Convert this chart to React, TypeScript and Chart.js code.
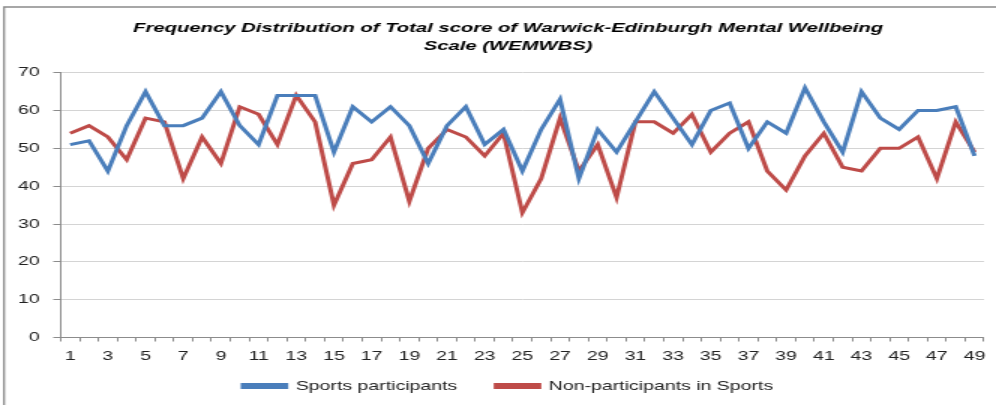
import React, { useEffect, useRef } from "react";
import { Chart, registerables } from "chart.js";

Chart.register(...registerables);

const categories: string[] = Array.from({ length: 49 }, (_, i) => String(i + 1));

const sportsParticipants: number[] = [
  51, 52, 44, 56, 65, 56, 56, 58, 65, 56, 51, 64, 64, 64, 49, 61, 57, 61, 56, 46,
  56, 61, 51, 55, 44, 55, 63, 42, 55, 49, 57, 65, 58, 51, 60, 62, 50, 57, 54, 66,
  57, 49, 65, 58, 55, 60, 60, 61, 48,
];

const nonParticipants: number[] = [
  54, 56, 53, 47, 58, 57, 42, 53, 46, 61, 59, 51, 64, 57, 35, 46, 47, 53, 36, 50,
  55, 53, 48, 54, 33, 42, 58, 44, 51, 37, 57, 57, 54, 59, 49, 54, 57, 44, 39, 48,
  54, 45, 44, 50, 50, 53, 42, 57, 49,
];

const seriesNames: string[] = ["Sports participants", "Non-participants in Sports"];
const seriesColors: string[] = ["#4A7EBB", "#BE4B48"];
const titleLines: string[] = [
  "Frequency Distribution of Total score of Warwick-Edinburgh Mental Wellbeing",
  "Scale (WEMWBS)",
];
const yMin = 0;
const yMax = 70;
const yStep = 10;

const STRETCH = 1.5;
const W = 664;
const H = 405;

const framePlugin = {
  id: "frame",
  beforeDraw(chart: any) {
    const ctx = chart.ctx;
    ctx.save();
    ctx.fillStyle = "#ffffff";
    ctx.fillRect(0, 0, chart.width, chart.height);
    ctx.strokeStyle = "#8a8a8a";
    ctx.lineWidth = 1.3;
    ctx.beginPath();
    ctx.moveTo(2.7, chart.height + 2);
    ctx.lineTo(2.7, 7);
    ctx.lineTo(chart.width + 2, 7);
    ctx.stroke();
    ctx.restore();
  },
};

export default function App() {
  const ref = useRef<HTMLCanvasElement | null>(null);

  useEffect(() => {
    if (!ref.current) return;
    const font = "'Liberation Sans', Arial, sans-serif";
    const chart = new Chart(ref.current, {
      type: "line",
      data: {
        labels: categories,
        datasets: [
          {
            label: seriesNames[0],
            data: sportsParticipants,
            borderColor: seriesColors[0],
            backgroundColor: seriesColors[0],
            borderWidth: 3,
            pointRadius: 0,
            tension: 0,
          },
          {
            label: seriesNames[1],
            data: nonParticipants,
            borderColor: seriesColors[1],
            backgroundColor: seriesColors[1],
            borderWidth: 3,
            pointRadius: 0,
            tension: 0,
          },
        ],
      },
      options: {
        animation: false,
        responsive: false,
        devicePixelRatio: 1,
        layout: { padding: { left: 8, right: -5.4, top: 0, bottom: 2.5 } },
        plugins: {
          title: {
            display: true,
            text: titleLines,
            color: "#000000",
            font: { family: font, size: 13.5, weight: "bold", style: "italic", lineHeight: 1.333 },
            padding: { top: 19, bottom: 17.7 },
          },
          legend: {
            display: true,
            position: "bottom",
            labels: {
              boxWidth: 28.7,
              boxHeight: 3,
              padding: 15,
              color: "#222222",
              font: { family: font, size: 13 },
              generateLabels: (c: any) => {
                const items = Chart.defaults.plugins.legend.labels.generateLabels(c);
                return items.map((it: any, i: number) =>
                  i === 0 ? { ...it, text: it.text + "   " } : it
                );
              },
            },
          },
          tooltip: { enabled: false },
        },
        scales: {
          x: {
            offset: true,
            afterFit(scale: any) {
              scale.height = 27;
            },
            grid: {
              offset: true,
              drawOnChartArea: false,
              drawTicks: true,
              tickLength: 4,
              tickColor: "#8c8c8c",
            },
            border: { display: true, color: "#8c8c8c", width: 1 },
            ticks: {
              autoSkip: false,
              maxRotation: 0,
              padding: 7,
              color: "#222222",
              font: { family: font, size: 13 },
              callback: (_v: any, i: number) => (i % 2 === 0 ? categories[i] : ""),
            },
          },
          y: {
            min: yMin,
            max: yMax,
            afterFit(scale: any) {
              scale.width = 32.5;
            },
            grid: {
              color: "#d4d4d4",
              tickColor: "#8c8c8c",
              tickLength: 5,
            },
            border: { display: true, color: "#8c8c8c", width: 1 },
            ticks: {
              stepSize: yStep,
              padding: 9,
              color: "#222222",
              font: { family: font, size: 13 },
            },
          },
          yRight: {
            position: "right",
            display: true,
            afterFit(scale: any) {
              scale.width = 11.6;
            },
            grid: { display: false, drawTicks: false },
            border: { display: false },
            ticks: { display: false },
          },
        },
      },
      plugins: [framePlugin],
    });
    return () => chart.destroy();
  }, []);

  return (
    <div
      style={{
        position: "absolute",
        left: 0,
        top: 0,
        width: 996,
        height: 405,
        overflow: "hidden",
        background: "#ffffff",
      }}
    >
      <canvas
        ref={ref}
        width={W}
        height={H}
        style={{ transform: `scaleX(${STRETCH})`, transformOrigin: "0 0", display: "block" }}
      />
    </div>
  );
}
